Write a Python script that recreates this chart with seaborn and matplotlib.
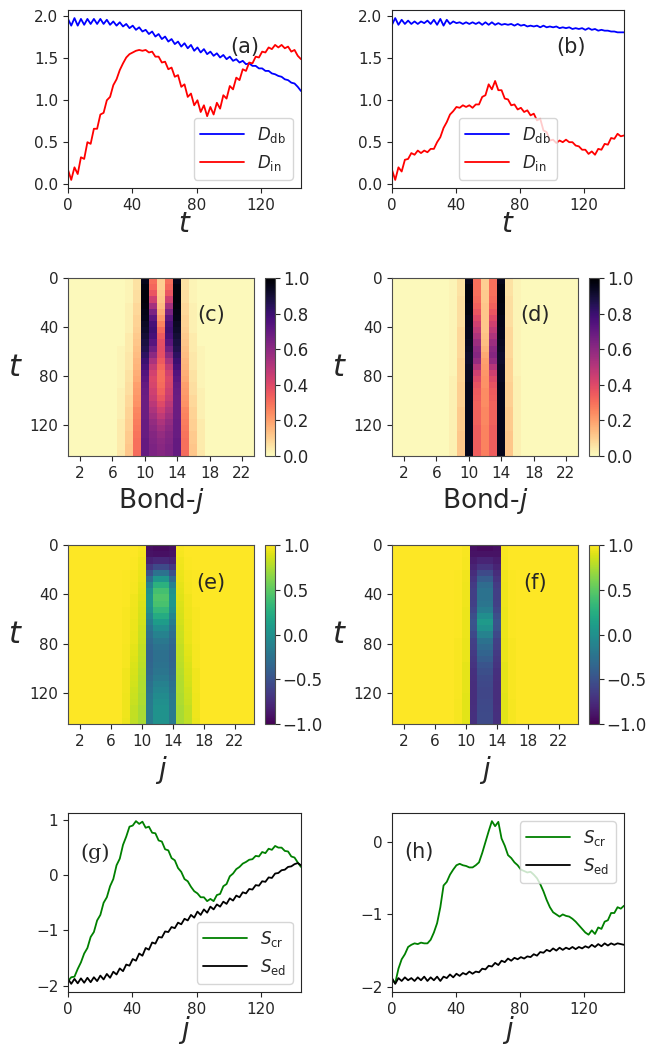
import numpy as np
import matplotlib
matplotlib.use("Agg")
import matplotlib.pyplot as plt
import seaborn as sns

# time grid shared by the line panels
t = np.linspace(0, 145, 73)

# panel (a)
d_db_a = [1.97, 1.89, 1.98, 1.89, 1.97, 1.90, 1.97, 1.91, 1.97, 1.91, 1.97, 1.91, 1.96, 1.90, 1.94, 1.89,
          1.93, 1.88, 1.91, 1.86, 1.89, 1.84, 1.87, 1.82, 1.84, 1.79, 1.82, 1.76, 1.79, 1.73, 1.76, 1.70,
          1.73, 1.67, 1.70, 1.64, 1.68, 1.62, 1.66, 1.59, 1.63, 1.57, 1.61, 1.55, 1.58, 1.53, 1.56, 1.51,
          1.54, 1.49, 1.52, 1.47, 1.49, 1.45, 1.47, 1.43, 1.44, 1.41, 1.41, 1.38, 1.38, 1.35, 1.35, 1.32,
          1.31, 1.29, 1.28, 1.25, 1.24, 1.21, 1.20, 1.16, 1.11]
d_in_a = [0.17, 0.05, 0.20, 0.12, 0.32, 0.30, 0.50, 0.48, 0.66, 0.66, 0.83, 0.85, 1.00, 1.04, 1.18, 1.25,
          1.36, 1.44, 1.51, 1.55, 1.57, 1.59, 1.60, 1.59, 1.60, 1.57, 1.58, 1.52, 1.52, 1.45, 1.46, 1.37,
          1.39, 1.28, 1.30, 1.16, 1.19, 1.04, 1.08, 0.94, 1.00, 0.86, 0.94, 0.81, 0.92, 0.83, 0.97, 0.90,
          1.06, 1.02, 1.17, 1.13, 1.27, 1.24, 1.37, 1.35, 1.45, 1.44, 1.52, 1.51, 1.58, 1.57, 1.63, 1.61,
          1.66, 1.63, 1.66, 1.62, 1.64, 1.58, 1.60, 1.53, 1.49]

# panel (b)
d_db_b = [1.90, 1.98, 1.90, 1.96, 1.91, 1.95, 1.91, 1.94, 1.91, 1.94, 1.92, 1.95, 1.91, 1.96, 1.90, 1.97,
          1.89, 1.96, 1.91, 1.94, 1.92, 1.93, 1.91, 1.93, 1.91, 1.93, 1.91, 1.93, 1.90, 1.93, 1.90, 1.93,
          1.90, 1.92, 1.90, 1.91, 1.90, 1.91, 1.89, 1.91, 1.89, 1.90, 1.88, 1.89, 1.88, 1.89, 1.87, 1.89,
          1.87, 1.88, 1.87, 1.88, 1.86, 1.87, 1.86, 1.87, 1.85, 1.86, 1.85, 1.86, 1.84, 1.86, 1.84, 1.85,
          1.83, 1.84, 1.83, 1.83, 1.82, 1.82, 1.81, 1.81, 1.81]
d_in_b = [0.17, 0.05, 0.20, 0.15, 0.29, 0.30, 0.37, 0.35, 0.40, 0.37, 0.40, 0.38, 0.42, 0.42, 0.50, 0.56,
          0.67, 0.74, 0.83, 0.87, 0.92, 0.91, 0.94, 0.92, 0.94, 0.91, 0.95, 0.95, 1.04, 1.06, 1.19, 1.13,
          1.23, 1.12, 1.12, 1.02, 1.01, 0.94, 0.95, 0.89, 0.91, 0.86, 0.88, 0.82, 0.84, 0.76, 0.78, 0.64,
          0.62, 0.52, 0.53, 0.49, 0.52, 0.50, 0.53, 0.50, 0.50, 0.46, 0.45, 0.41, 0.41, 0.36, 0.39, 0.35,
          0.42, 0.41, 0.48, 0.47, 0.55, 0.54, 0.60, 0.57, 0.58]

# panel (g)
s_cr_g = [-1.92, -1.85, -1.84, -1.70, -1.58, -1.42, -1.32, -1.12, -1.03, -0.82, -0.72, -0.50, -0.40, -0.20,
          -0.07, 0.18, 0.30, 0.55, 0.70, 0.88, 0.90, 0.98, 0.93, 0.97, 0.86, 0.88, 0.77, 0.76, 0.63, 0.61,
          0.47, 0.45, 0.31, 0.27, 0.13, 0.06, -0.07, -0.11, -0.21, -0.29, -0.33, -0.40, -0.40, -0.47, -0.43,
          -0.47, -0.36, -0.34, -0.20, -0.16, -0.02, 0.03, 0.11, 0.15, 0.21, 0.24, 0.28, 0.29, 0.35, 0.34,
          0.42, 0.40, 0.48, 0.46, 0.53, 0.50, 0.50, 0.44, 0.43, 0.34, 0.32, 0.23, 0.15]
s_ed_g = [-1.88, -1.97, -1.88, -1.96, -1.87, -1.95, -1.86, -1.94, -1.85, -1.92, -1.82, -1.89, -1.79, -1.86,
          -1.75, -1.80, -1.69, -1.74, -1.62, -1.64, -1.52, -1.55, -1.42, -1.46, -1.32, -1.35, -1.22, -1.24,
          -1.12, -1.13, -1.02, -1.03, -0.94, -0.96, -0.86, -0.89, -0.79, -0.82, -0.72, -0.77, -0.66, -0.72,
          -0.62, -0.68, -0.57, -0.62, -0.53, -0.57, -0.48, -0.52, -0.42, -0.46, -0.37, -0.40, -0.31, -0.33,
          -0.25, -0.26, -0.18, -0.19, -0.11, -0.12, -0.04, -0.05, 0.03, 0.04, 0.09, 0.10, 0.15, 0.16, 0.20,
          0.22, 0.18]

# panel (h)
s_cr_h = [-1.90, -1.95, -1.75, -1.62, -1.55, -1.45, -1.42, -1.40, -1.41, -1.39, -1.40, -1.40, -1.35, -1.25,
          -1.12, -0.90, -0.60, -0.55, -0.45, -0.38, -0.32, -0.30, -0.32, -0.33, -0.35, -0.35, -0.32, -0.28,
          -0.15, 0.00, 0.15, 0.29, 0.22, 0.28, 0.05, -0.05, -0.18, -0.22, -0.28, -0.32, -0.38, -0.40, -0.42,
          -0.41, -0.45, -0.50, -0.58, -0.68, -0.80, -0.90, -0.97, -1.00, -1.03, -1.00, -1.02, -1.03, -1.06,
          -1.10, -1.15, -1.20, -1.25, -1.28, -1.22, -1.27, -1.18, -1.20, -1.10, -1.08, -0.98, -0.98, -0.90,
          -0.92, -0.88]
s_ed_h = [-1.88, -1.96, -1.88, -1.92, -1.87, -1.91, -1.88, -1.92, -1.87, -1.91, -1.86, -1.92, -1.87, -1.91,
          -1.86, -1.92, -1.86, -1.88, -1.83, -1.87, -1.82, -1.85, -1.81, -1.83, -1.79, -1.82, -1.79, -1.80,
          -1.75, -1.76, -1.71, -1.72, -1.67, -1.70, -1.64, -1.66, -1.61, -1.64, -1.60, -1.62, -1.59, -1.61,
          -1.58, -1.59, -1.55, -1.57, -1.52, -1.53, -1.49, -1.51, -1.47, -1.50, -1.46, -1.49, -1.46, -1.48,
          -1.45, -1.48, -1.45, -1.47, -1.44, -1.46, -1.42, -1.45, -1.41, -1.44, -1.40, -1.43, -1.40, -1.42,
          -1.40, -1.41, -1.42]

# heat maps: one row per 5 time units (t = 0, 5, ..., 140), only the columns that change
map_t_step = 5
# (c) bonds 7..17, rest ~0
bond_c_first = 7
bond_c = [
    [0.01, 0.02, 0.06, 0.95, 0.30, 0.10, 0.30, 0.95, 0.06, 0.02, 0.01],
    [0.01, 0.02, 0.06, 0.97, 0.32, 0.10, 0.32, 0.97, 0.06, 0.02, 0.01],
    [0.01, 0.02, 0.07, 0.98, 0.36, 0.11, 0.36, 0.98, 0.07, 0.02, 0.01],
    [0.01, 0.02, 0.07, 0.98, 0.44, 0.12, 0.44, 0.98, 0.07, 0.02, 0.01],
    [0.01, 0.03, 0.08, 0.97, 0.54, 0.14, 0.54, 0.97, 0.08, 0.03, 0.01],
    [0.01, 0.03, 0.08, 0.96, 0.64, 0.17, 0.64, 0.96, 0.08, 0.03, 0.01],
    [0.01, 0.03, 0.09, 0.95, 0.72, 0.21, 0.72, 0.95, 0.09, 0.03, 0.01],
    [0.01, 0.03, 0.09, 0.93, 0.77, 0.26, 0.77, 0.93, 0.09, 0.03, 0.01],
    [0.01, 0.03, 0.10, 0.92, 0.79, 0.31, 0.79, 0.92, 0.10, 0.03, 0.01],
    [0.01, 0.04, 0.11, 0.90, 0.77, 0.35, 0.77, 0.90, 0.11, 0.04, 0.01],
    [0.01, 0.04, 0.12, 0.88, 0.73, 0.38, 0.73, 0.88, 0.12, 0.04, 0.01],
    [0.02, 0.04, 0.13, 0.86, 0.67, 0.39, 0.67, 0.86, 0.13, 0.04, 0.02],
    [0.02, 0.05, 0.14, 0.83, 0.60, 0.38, 0.60, 0.83, 0.14, 0.05, 0.02],
    [0.02, 0.05, 0.15, 0.80, 0.53, 0.35, 0.53, 0.80, 0.15, 0.05, 0.02],
    [0.02, 0.05, 0.16, 0.77, 0.47, 0.32, 0.47, 0.77, 0.16, 0.05, 0.02],
    [0.02, 0.06, 0.17, 0.74, 0.43, 0.30, 0.43, 0.74, 0.17, 0.06, 0.02],
    [0.02, 0.06, 0.18, 0.72, 0.41, 0.30, 0.41, 0.72, 0.18, 0.06, 0.02],
    [0.02, 0.07, 0.20, 0.70, 0.42, 0.31, 0.42, 0.70, 0.20, 0.07, 0.02],
    [0.03, 0.07, 0.21, 0.69, 0.44, 0.33, 0.44, 0.69, 0.21, 0.07, 0.03],
    [0.03, 0.08, 0.22, 0.68, 0.46, 0.36, 0.46, 0.68, 0.22, 0.08, 0.03],
    [0.03, 0.08, 0.23, 0.68, 0.49, 0.40, 0.49, 0.68, 0.23, 0.08, 0.03],
    [0.03, 0.09, 0.25, 0.68, 0.52, 0.44, 0.52, 0.68, 0.25, 0.09, 0.03],
    [0.03, 0.09, 0.26, 0.68, 0.55, 0.48, 0.55, 0.68, 0.26, 0.09, 0.03],
    [0.04, 0.10, 0.27, 0.69, 0.58, 0.52, 0.58, 0.69, 0.27, 0.10, 0.04],
    [0.04, 0.10, 0.28, 0.69, 0.60, 0.55, 0.60, 0.69, 0.28, 0.10, 0.04],
    [0.04, 0.11, 0.29, 0.69, 0.62, 0.58, 0.62, 0.69, 0.29, 0.11, 0.04],
    [0.04, 0.11, 0.30, 0.70, 0.63, 0.60, 0.63, 0.70, 0.30, 0.11, 0.04],
    [0.04, 0.12, 0.30, 0.70, 0.64, 0.61, 0.64, 0.70, 0.30, 0.12, 0.04],
    [0.05, 0.12, 0.31, 0.70, 0.64, 0.62, 0.64, 0.70, 0.31, 0.12, 0.05],
]
# (d) bonds 8..16
bond_d_first = 8
bond_d = [
    [0.02, 0.06, 0.95, 0.30, 0.10, 0.30, 0.95, 0.06, 0.02],
    [0.02, 0.06, 0.97, 0.30, 0.10, 0.30, 0.97, 0.06, 0.02],
    [0.02, 0.06, 0.98, 0.30, 0.11, 0.30, 0.98, 0.06, 0.02],
    [0.02, 0.07, 0.98, 0.31, 0.11, 0.31, 0.98, 0.07, 0.02],
    [0.02, 0.07, 0.97, 0.33, 0.12, 0.33, 0.97, 0.07, 0.02],
    [0.02, 0.07, 0.97, 0.36, 0.12, 0.36, 0.97, 0.07, 0.02],
    [0.02, 0.07, 0.96, 0.40, 0.12, 0.40, 0.96, 0.07, 0.02],
    [0.02, 0.07, 0.96, 0.44, 0.12, 0.44, 0.96, 0.07, 0.02],
    [0.02, 0.08, 0.95, 0.48, 0.12, 0.48, 0.95, 0.08, 0.02],
    [0.02, 0.08, 0.95, 0.52, 0.13, 0.52, 0.95, 0.08, 0.02],
    [0.02, 0.08, 0.94, 0.56, 0.14, 0.56, 0.94, 0.08, 0.02],
    [0.02, 0.08, 0.93, 0.60, 0.16, 0.60, 0.93, 0.08, 0.02],
    [0.02, 0.08, 0.92, 0.62, 0.18, 0.62, 0.92, 0.08, 0.02],
    [0.02, 0.09, 0.92, 0.58, 0.20, 0.58, 0.92, 0.09, 0.02],
    [0.02, 0.09, 0.93, 0.50, 0.21, 0.50, 0.93, 0.09, 0.02],
    [0.02, 0.09, 0.94, 0.44, 0.22, 0.44, 0.94, 0.09, 0.02],
    [0.03, 0.09, 0.94, 0.40, 0.23, 0.40, 0.94, 0.09, 0.03],
    [0.03, 0.10, 0.95, 0.37, 0.23, 0.37, 0.95, 0.10, 0.03],
    [0.03, 0.10, 0.95, 0.35, 0.24, 0.35, 0.95, 0.10, 0.03],
    [0.03, 0.10, 0.95, 0.34, 0.24, 0.34, 0.95, 0.10, 0.03],
    [0.03, 0.10, 0.95, 0.33, 0.24, 0.33, 0.95, 0.10, 0.03],
    [0.03, 0.11, 0.95, 0.33, 0.25, 0.33, 0.95, 0.11, 0.03],
    [0.03, 0.11, 0.95, 0.33, 0.25, 0.33, 0.95, 0.11, 0.03],
    [0.03, 0.11, 0.95, 0.33, 0.25, 0.33, 0.95, 0.11, 0.03],
    [0.03, 0.11, 0.95, 0.34, 0.26, 0.34, 0.95, 0.11, 0.03],
    [0.03, 0.12, 0.95, 0.34, 0.26, 0.34, 0.95, 0.12, 0.03],
    [0.03, 0.12, 0.95, 0.34, 0.26, 0.34, 0.95, 0.12, 0.03],
    [0.03, 0.12, 0.95, 0.34, 0.26, 0.34, 0.95, 0.12, 0.03],
    [0.03, 0.12, 0.95, 0.34, 0.27, 0.34, 0.95, 0.12, 0.03],
]
# (e) sites 8..17, rest = 1
site_e_first = 8
site_e = [
    [1.00, 1.00, 0.98, -0.92, -0.94, -0.94, -0.92, 0.98, 1.00, 1.00],
    [1.00, 1.00, 0.97, -0.90, -0.92, -0.92, -0.90, 0.97, 1.00, 1.00],
    [1.00, 0.99, 0.96, -0.82, -0.78, -0.78, -0.82, 0.96, 0.99, 1.00],
    [1.00, 0.99, 0.95, -0.68, -0.55, -0.55, -0.68, 0.95, 0.99, 1.00],
    [0.99, 0.98, 0.94, -0.50, -0.25, -0.25, -0.50, 0.94, 0.98, 0.99],
    [0.99, 0.98, 0.93, -0.30, 0.05, 0.05, -0.30, 0.93, 0.98, 0.99],
    [0.99, 0.97, 0.92, -0.12, 0.28, 0.28, -0.12, 0.92, 0.97, 0.99],
    [0.99, 0.97, 0.91, 0.00, 0.40, 0.40, 0.00, 0.91, 0.97, 0.99],
    [0.99, 0.96, 0.90, 0.05, 0.45, 0.45, 0.05, 0.90, 0.96, 0.99],
    [0.99, 0.96, 0.89, 0.05, 0.42, 0.42, 0.05, 0.89, 0.96, 0.99],
    [0.98, 0.95, 0.88, 0.00, 0.33, 0.33, 0.00, 0.88, 0.95, 0.98],
    [0.98, 0.95, 0.87, -0.08, 0.22, 0.22, -0.08, 0.87, 0.95, 0.98],
    [0.98, 0.94, 0.86, -0.15, 0.10, 0.10, -0.15, 0.86, 0.94, 0.98],
    [0.98, 0.94, 0.85, -0.22, -0.02, -0.02, -0.22, 0.85, 0.94, 0.98],
    [0.98, 0.93, 0.84, -0.28, -0.12, -0.12, -0.28, 0.84, 0.93, 0.98],
    [0.98, 0.93, 0.83, -0.32, -0.20, -0.20, -0.32, 0.83, 0.93, 0.98],
    [0.97, 0.92, 0.82, -0.35, -0.25, -0.25, -0.35, 0.82, 0.92, 0.97],
    [0.97, 0.91, 0.81, -0.36, -0.27, -0.27, -0.36, 0.81, 0.91, 0.97],
    [0.97, 0.90, 0.80, -0.36, -0.27, -0.27, -0.36, 0.80, 0.90, 0.97],
    [0.97, 0.89, 0.79, -0.35, -0.25, -0.25, -0.35, 0.79, 0.89, 0.97],
    [0.96, 0.88, 0.78, -0.33, -0.22, -0.22, -0.33, 0.78, 0.88, 0.96],
    [0.96, 0.87, 0.77, -0.30, -0.18, -0.18, -0.30, 0.77, 0.87, 0.96],
    [0.96, 0.86, 0.76, -0.27, -0.13, -0.13, -0.27, 0.76, 0.86, 0.96],
    [0.96, 0.85, 0.76, -0.24, -0.08, -0.08, -0.24, 0.76, 0.85, 0.96],
    [0.95, 0.84, 0.75, -0.21, -0.04, -0.04, -0.21, 0.75, 0.84, 0.95],
    [0.95, 0.83, 0.75, -0.19, -0.01, -0.01, -0.19, 0.75, 0.83, 0.95],
    [0.95, 0.82, 0.74, -0.18, 0.01, 0.01, -0.18, 0.74, 0.82, 0.95],
    [0.95, 0.82, 0.74, -0.18, 0.02, 0.02, -0.18, 0.74, 0.82, 0.95],
    [0.94, 0.81, 0.74, -0.18, 0.02, 0.02, -0.18, 0.74, 0.81, 0.94],
]
# (f) sites 9..16
site_f_first = 9
site_f = [
    [1.00, 0.98, -0.92, -0.94, -0.94, -0.92, 0.98, 1.00],
    [1.00, 0.98, -0.90, -0.90, -0.90, -0.90, 0.98, 1.00],
    [1.00, 0.97, -0.85, -0.80, -0.80, -0.85, 0.97, 1.00],
    [1.00, 0.97, -0.80, -0.70, -0.70, -0.80, 0.97, 1.00],
    [0.99, 0.96, -0.75, -0.55, -0.55, -0.75, 0.96, 0.99],
    [0.99, 0.96, -0.70, -0.42, -0.42, -0.70, 0.96, 0.99],
    [0.99, 0.95, -0.65, -0.30, -0.30, -0.65, 0.95, 0.99],
    [0.99, 0.95, -0.63, -0.25, -0.25, -0.63, 0.95, 0.99],
    [0.99, 0.95, -0.63, -0.25, -0.25, -0.63, 0.95, 0.99],
    [0.99, 0.95, -0.62, -0.22, -0.22, -0.62, 0.95, 0.99],
    [0.99, 0.94, -0.58, -0.15, -0.15, -0.58, 0.94, 0.99],
    [0.99, 0.94, -0.52, -0.02, -0.02, -0.52, 0.94, 0.99],
    [0.99, 0.94, -0.48, 0.08, 0.08, -0.48, 0.94, 0.99],
    [0.99, 0.94, -0.50, 0.02, 0.02, -0.50, 0.94, 0.99],
    [0.99, 0.94, -0.56, -0.12, -0.12, -0.56, 0.94, 0.99],
    [0.98, 0.93, -0.62, -0.25, -0.25, -0.62, 0.93, 0.98],
    [0.98, 0.93, -0.64, -0.32, -0.32, -0.64, 0.93, 0.98],
    [0.98, 0.93, -0.66, -0.36, -0.36, -0.66, 0.93, 0.98],
    [0.98, 0.93, -0.68, -0.42, -0.42, -0.68, 0.93, 0.98],
    [0.98, 0.92, -0.70, -0.48, -0.48, -0.70, 0.92, 0.98],
    [0.98, 0.92, -0.72, -0.52, -0.52, -0.72, 0.92, 0.98],
    [0.98, 0.92, -0.73, -0.55, -0.55, -0.73, 0.92, 0.98],
    [0.98, 0.92, -0.74, -0.57, -0.57, -0.74, 0.92, 0.98],
    [0.98, 0.92, -0.74, -0.58, -0.58, -0.74, 0.92, 0.98],
    [0.98, 0.91, -0.74, -0.58, -0.58, -0.74, 0.91, 0.98],
    [0.97, 0.91, -0.74, -0.57, -0.57, -0.74, 0.91, 0.97],
    [0.97, 0.91, -0.73, -0.56, -0.56, -0.73, 0.91, 0.97],
    [0.97, 0.91, -0.72, -0.55, -0.55, -0.72, 0.91, 0.97],
    [0.97, 0.91, -0.72, -0.55, -0.55, -0.72, 0.91, 0.97],
]
n_bonds = 23
n_sites = 24

t_ticks = [0, 40, 80, 120]
j_ticks = [2, 6, 10, 14, 18, 22]

sns.set_style("ticks")
plt.rcParams["font.family"] = ["DejaVu Sans"]
plt.rcParams["xtick.labelsize"] = 11
plt.rcParams["ytick.labelsize"] = 11

fig = plt.figure(figsize=(6.48, 10.51), dpi=100)


def box(x0, y0, x1, y1):
    # pixel box -> figure fraction
    return [x0 / 648, 1 - y1 / 1051, (x1 - x0) / 648, (y1 - y0) / 1051]


def full_map(rows, first, n_cols, background):
    grid = np.full((len(rows), n_cols), background)
    rows = np.array(rows)
    grid[:, first - 1:first - 1 + rows.shape[1]] = rows
    return grid


def line_panel(rect, y1, y2, c1, c2, lab1, lab2, tag, tag_xy, loc, xlab, yticks, tagfont=None):
    ax = fig.add_axes(box(*rect))
    sns.lineplot(x=t, y=y1, color=c1, lw=1.3, label=lab1, ax=ax)
    sns.lineplot(x=t, y=y2, color=c2, lw=1.3, label=lab2, ax=ax)
    ax.set_xlim(0, 145)
    ax.set_xticks([0, 40, 80, 120])
    ax.set_yticks(yticks)
    ax.legend(loc=loc, fontsize=12, handlelength=2.6)
    ax.set_xlabel(xlab, fontsize=20, labelpad=-2)
    ax.text(tag_xy[0], tag_xy[1], tag, transform=ax.transAxes, ha="center", va="center",
            fontsize=15, family=tagfont if tagfont else ["DejaVu Sans"])
    return ax


def map_panel(rect, crect, grid, cmap, vmin, vmax, cticks, tag, xlab, xsize):
    ax = fig.add_axes(box(*rect))
    cax = fig.add_axes(box(*crect))
    sns.heatmap(grid, cmap=cmap, vmin=vmin, vmax=vmax, ax=ax, cbar_ax=cax,
                xticklabels=False, yticklabels=False, cbar_kws={"ticks": cticks})
    ax.set_xticks([j - 0.5 for j in j_ticks])
    ax.set_xticklabels([str(j) for j in j_ticks])
    ax.set_yticks([tt / map_t_step for tt in t_ticks])
    ax.set_yticklabels([str(tt) for tt in t_ticks], rotation=0)
    ax.tick_params(length=3.5, width=0.8)
    for sp in ax.spines.values():
        sp.set_visible(True)
        sp.set_color("0.3")
        sp.set_linewidth(0.8)
    ax.set_ylabel("$t$", fontsize=22, rotation=0, labelpad=10, va="center")
    ax.set_xlabel(xlab, fontsize=xsize, labelpad=4)
    cbar = ax.collections[0].colorbar
    cbar.outline.set_linewidth(0.8)
    cbar.outline.set_edgecolor("0.3")
    cax.tick_params(labelsize=12, length=3.5, width=0.8, pad=2)
    ax.text(0.77, 0.79, tag, transform=ax.transAxes, ha="center", va="center", fontsize=15)
    return ax


line_panel((68, 10, 301, 188), d_db_a, d_in_a, "blue", "red", r"$D_{\rm db}$", r"$D_{\rm in}$",
           "(a)", (0.76, 0.79), "lower right", "$t$", [0, 0.5, 1.0, 1.5, 2.0])
line_panel((392, 10, 624, 188), d_db_b, d_in_b, "blue", "red", r"$D_{\rm db}$", r"$D_{\rm in}$",
           "(b)", (0.77, 0.79), "lower center", "$t$", [0, 0.5, 1.0, 1.5, 2.0])

map_panel((68, 278, 254, 456), (265, 278, 275, 456), full_map(bond_c, bond_c_first, n_bonds, 0.01),
          "magma_r", 0, 1, [0, 0.2, 0.4, 0.6, 0.8, 1.0], "(c)", "Bond-$j$", 19)
map_panel((392, 278, 578, 456), (589, 278, 599, 456), full_map(bond_d, bond_d_first, n_bonds, 0.01),
          "magma_r", 0, 1, [0, 0.2, 0.4, 0.6, 0.8, 1.0], "(d)", "Bond-$j$", 19)
map_panel((68, 545, 254, 724), (265, 545, 275, 724), full_map(site_e, site_e_first, n_sites, 1.0),
          "viridis", -1, 1, [-1, -0.5, 0, 0.5, 1.0], "(e)", "$j$", 20)
map_panel((392, 545, 578, 724), (589, 545, 599, 724), full_map(site_f, site_f_first, n_sites, 1.0),
          "viridis", -1, 1, [-1, -0.5, 0, 0.5, 1.0], "(f)", "$j$", 20)

line_panel((68, 813, 301, 992), s_cr_g, s_ed_g, "green", "black", r"$S_{\rm cr}$", r"$S_{\rm ed}$",
           "(g)", (0.116, 0.775), "lower right", "$j$", [-2, -1, 0, 1], tagfont=["DejaVu Serif"])
line_panel((392, 813, 624, 992), s_cr_h, s_ed_h, "green", "black", r"$S_{\rm cr}$", r"$S_{\rm ed}$",
           "(h)", (0.116, 0.78), "upper right", "$j$", [-2, -1, 0])

fig.savefig("out.png", dpi=100)
